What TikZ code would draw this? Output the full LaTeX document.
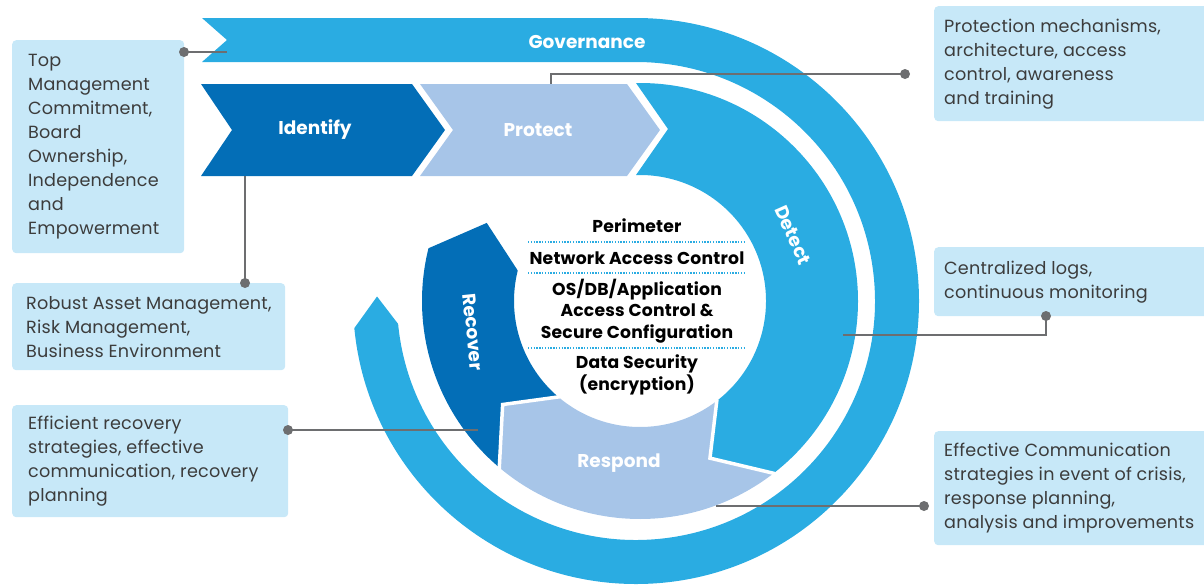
\documentclass[tikz,border=0pt]{standalone}
\usepackage{fontspec}
\setmainfont{Poppins}
\newfontfamily\widefont[LetterSpace=1.2]{Poppins}
\usetikzlibrary{calc}
\definecolor{govblue}{HTML}{2AACE2}
\definecolor{idblue}{HTML}{036EB7}
\definecolor{protblue}{HTML}{A7C5E8}
\definecolor{boxblue}{HTML}{C7E8F8}
\definecolor{linegray}{HTML}{6D6E70}
\definecolor{txtgray}{HTML}{3C3C3C}
\begin{document}
\begin{tikzpicture}[x=1pt,y=-1pt,
  box/.style={fill=boxblue, rounded corners=4pt, inner sep=0pt, anchor=north west},
  boxtext/.style={font=\widefont\fontsize{17.6}{24}\selectfont, text=txtgray, align=left, inner sep=0pt, anchor=west},
  lbl/.style={font=\fontsize{18.5}{20}\selectfont\bfseries, text=white, inner sep=0pt},
  core/.style={font=\widefont\fontsize{17.2}{21.5}\selectfont\bfseries, text=black, align=center, inner sep=0pt},
  conn/.style={draw=linegray, line width=1.5pt},
  dotmark/.style={fill=linegray},
  sepline/.style={draw=govblue, line width=1.2pt, dash pattern=on 1.3pt off 1.5pt},
  gapline/.style={draw=white, line width=3.5pt, line join=miter}]
\useasboundingbox (0,0) rectangle (1204,587);
\coordinate (C) at (640,301);
\coordinate (G) at (636,301);

% Governance band
\fill[govblue] (202,18) -- (636,18) arc[start angle=-90, end angle=174.5, radius=283]
  -- ([shift={(181:259)}]G) -- ([shift={(174.5:239)}]G)
  arc[start angle=174.5, end angle=-90, radius=239] -- (202,62) -- (227,40) -- cycle;

% Identify and Protect chevrons
\fill[idblue] (201,84) -- (412,84) -- (445,130) -- (412,176) -- (201,176) -- (232,130) -- cycle;
\fill[protblue] (420,84) -- (627,84) -- (660,130) -- (627,176) -- (420,176) -- (453,130) -- cycle;

% Recover
\fill[idblue] ([shift={(130:218)}]C) arc[start angle=130, end angle=194, radius=218]
  -- ([shift={(207:172)}]C) -- ([shift={(194:126)}]C)
  arc[start angle=194, end angle=130, radius=126] -- ([shift={(143:172)}]C) -- cycle;
% Respond
\fill[protblue] ([shift={(52:218)}]C) arc[start angle=52, end angle=130, radius=218]
  -- ([shift={(143:172)}]C) -- ([shift={(130:126)}]C)
  arc[start angle=130, end angle=52, radius=126] -- ([shift={(66:172)}]C) -- cycle;
\draw[gapline] ([shift={(130:219)}]C) -- ([shift={(143:172)}]C) -- ([shift={(130:125)}]C);
% Detect
\fill[govblue] (636,83) -- (640,83) arc[start angle=-90, end angle=52, radius=218]
  -- ([shift={(66:172)}]C) -- ([shift={(52:126)}]C)
  arc[start angle=52, end angle=-90, radius=126] -- (636,175) -- (668,129) -- cycle;
\draw[gapline] ([shift={(52:219)}]C) -- ([shift={(66:172)}]C) -- ([shift={(52:125)}]C);

% labels on shapes
\node[lbl] (gov) at (587,42) {Governance};
\node[lbl] (idn) at (315,130) {Identify};
\node[lbl] (prt) at (538,130) {Protect};
\node[lbl, rotate=-66] (det) at (793,235) {Detect};
\node[lbl, rotate=-84] (rec) at (473,332) {Recover};
\node[lbl] (rsp) at (619,463) {Respond};

% core texts
\node[core] (per) at (637,226) {Perimeter};
\node[core] (nac) at (637,258) {Network Access Control};
\node[core] (osdb) at (637,311) {OS/DB/Application\\Access Control \&\\Secure Configuration};
\node[core] (dsec) at (637,375) {Data Security\\(encryption)};
\coordinate (s1a) at (528,242); \coordinate (s1b) at (746,242);
\coordinate (s2a) at (528,273); \coordinate (s2b) at (746,273);
\coordinate (s3a) at (528,348); \coordinate (s3b) at (746,348);
\draw[sepline] (s1a) -- (s1b);
\draw[sepline] (s2a) -- (s2b);
\draw[sepline] (s3a) -- (s3b);

% info boxes
\node[box, minimum width=172pt, minimum height=213pt] (b1) at (12,40) {};
\node[boxtext] (b1t) at ([xshift=16pt]b1.west) {Top\\Management\\Commitment,\\Board\\Ownership,\\Independence\\and\\Empowerment};
\node[box, minimum width=273pt, minimum height=87pt] (b2) at (12,283) {};
\node[boxtext] (b2t) at ([xshift=14pt]b2.west) {Robust Asset Management,\\Risk Management,\\Business Environment};
\node[box, minimum width=276pt, minimum height=112pt] (b3) at (12,405) {};
\node[boxtext] (b3t) at ([xshift=16pt]b3.west) {Efficient recovery\\strategies, effective\\communication, recovery\\planning};
\node[box, minimum width=280pt, minimum height=115pt] (b4) at (934,6) {};
\node[boxtext] (b4t) at ([xshift=10pt]b4.west) {Protection mechanisms,\\architecture, access\\control, awareness\\and training};
\node[box, minimum width=280pt, minimum height=69pt] (b5) at (934,247) {};
\node[boxtext] (b5t) at ([xshift=10pt]b5.west) {Centralized logs,\\continuous monitoring};
\node[box, minimum width=280pt, minimum height=114pt] (b6) at (934,431) {};
\node[boxtext] (b6t) at ([xshift=10pt]b6.west) {Effective Communication\\strategies in event of crisis,\\response planning,\\analysis and improvements};

% connectors
\coordinate (d1) at (184,52);  \coordinate (e1) at (227,52);
\coordinate (d2) at (245,283); \coordinate (e2) at (245,176);
\coordinate (d3) at (288,430); \coordinate (e3) at (478,430);
\coordinate (d4) at (905,74);  \coordinate (e4) at (551,84);
\coordinate (d5) at (1046,316); \coordinate (e5) at (843,335);
\coordinate (d6) at (924,506); \coordinate (e6) at (716,506);
\draw[conn] (d1) -- (e1);
\draw[conn] (d2) -- (e2);
\draw[conn] (d3) -- (e3);
\draw[conn] (d4) -| (e4);
\draw[conn] (d5) |- (e5);
\draw[conn] (d6) -- (e6);
\foreach \d in {d1,d2,d3,d4,d5,d6} \fill[dotmark] (\d) circle[radius=5];
\end{tikzpicture}
\end{document}
